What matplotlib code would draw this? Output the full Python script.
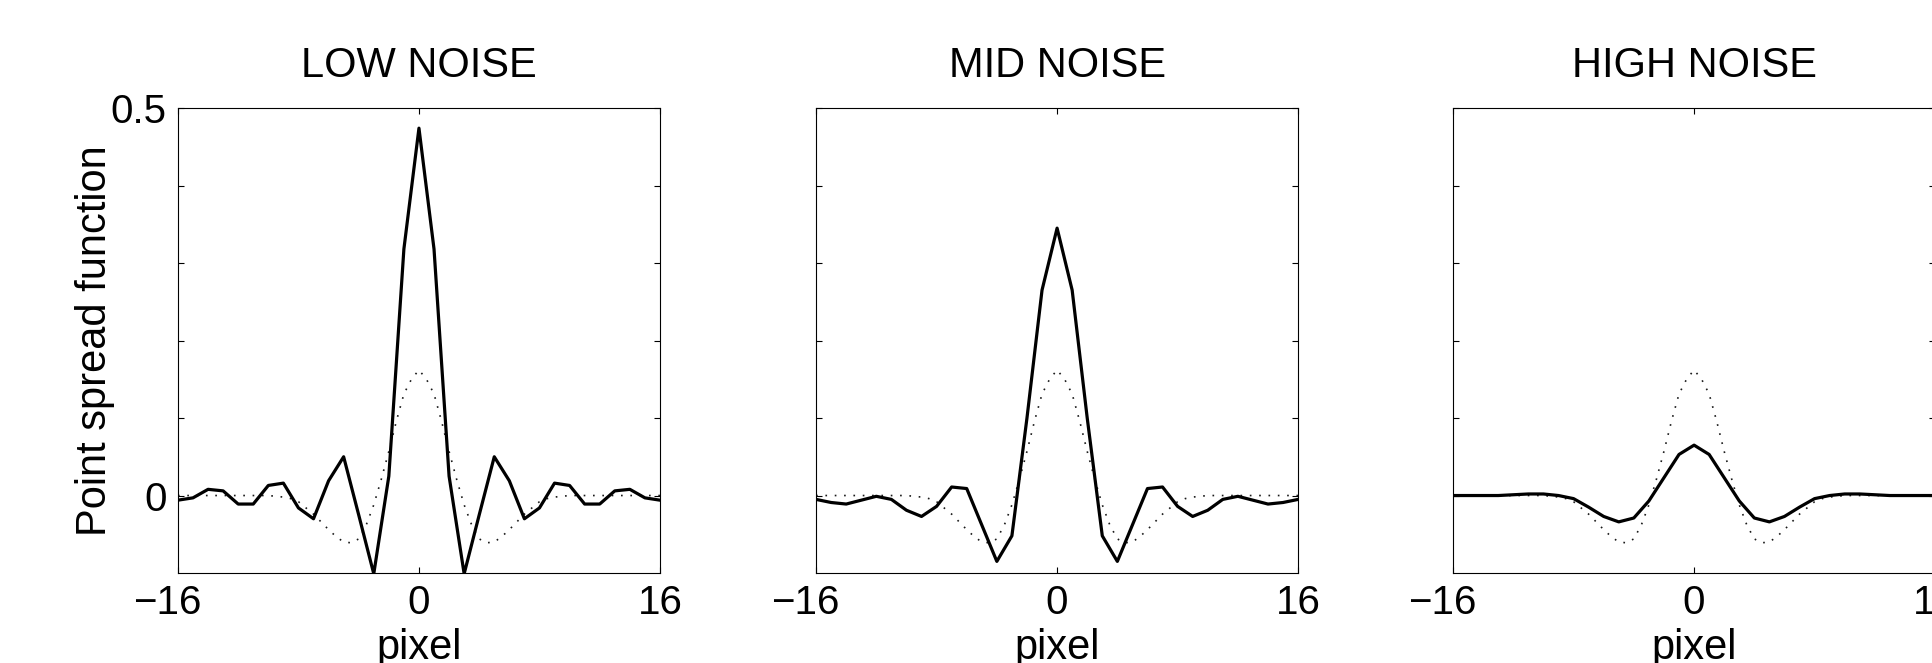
import matplotlib
matplotlib.use("Agg")
import matplotlib.pyplot as plt
import matplotlib.transforms as mtransforms
import numpy as np

plt.rcParams['font.family'] = ['Liberation Sans', 'DejaVu Sans']

# pixel positions
pix = np.arange(-16, 17)
pix_fine = np.arange(-16, 16.5, 0.5)

titles = ['LOW NOISE', 'MID NOISE', 'HIGH NOISE']

# estimated PSF (solid), one value per pixel
psf_low = [-0.006, -0.003, 0.008, 0.006, -0.011, -0.011, 0.013, 0.016, -0.016, -0.030,
           0.019, 0.050, -0.025, -0.101, 0.025, 0.318, 0.474, 0.318, 0.025, -0.101,
           -0.025, 0.050, 0.019, -0.030, -0.016, 0.016, 0.013, -0.011, -0.011, 0.006,
           0.008, -0.003, -0.006]
psf_mid = [-0.005, -0.009, -0.011, -0.006, -0.001, -0.005, -0.019, -0.027, -0.014, 0.011,
           0.009, -0.038, -0.085, -0.052, 0.100, 0.265, 0.345, 0.265, 0.100, -0.052,
           -0.085, -0.038, 0.009, 0.011, -0.014, -0.027, -0.019, -0.005, -0.001, -0.006,
           -0.011, -0.009, -0.005]
psf_high = [0.000, 0.000, 0.000, 0.000, 0.001, 0.002, 0.002, 0.000, -0.004, -0.015,
            -0.027, -0.034, -0.029, -0.007, 0.023, 0.053, 0.065, 0.053, 0.023, -0.007,
            -0.029, -0.034, -0.027, -0.015, -0.004, 0.000, 0.002, 0.002, 0.001, 0.000,
            0.000, 0.000, 0.000]

# reference PSF (dotted), read every half pixel
psf_true = [0.000, 0.000, 0.000, 0.000, 0.000, 0.000, 0.000, 0.000, 0.000, 0.000,
            0.000, 0.000, 0.000, -0.001, -0.002, -0.004, -0.008, -0.016, -0.024, -0.034,
            -0.044, -0.053, -0.060, -0.061, -0.056, -0.038, -0.012, 0.021, 0.057, 0.096,
            0.131, 0.150, 0.162, 0.150, 0.131, 0.096, 0.057, 0.021, -0.012, -0.038,
            -0.056, -0.061, -0.060, -0.053, -0.044, -0.034, -0.024, -0.016, -0.008, -0.004,
            -0.002, -0.001, 0.000, 0.000, 0.000, 0.000, 0.000, 0.000, 0.000, 0.000,
            0.000, 0.000, 0.000, 0.000, 0.000]

series = [psf_low, psf_mid, psf_high]

fig = plt.figure(figsize=(19.32, 6.63), dpi=100)
lefts = [0.0921, 0.4224, 0.7521]
# the minus sign hangs to the left of the centred digits
shift = mtransforms.ScaledTranslation(-8 / 72, 0, fig.dpi_scale_trans)

for i in range(3):
    ax = fig.add_axes([lefts[i], 0.1357, 0.2495, 0.7014])
    ax.plot(pix_fine, psf_true, color='#1a1a1a', lw=1.2, linestyle=(0, (1, 4.6)))
    ax.plot(pix, series[i], color='black', lw=2.3)
    ax.set_xlim(-16, 16)
    ax.set_ylim(-0.1, 0.5)
    ax.set_xticks([-16, 0, 16])
    ax.set_yticks([0, 0.1, 0.2, 0.3, 0.4, 0.5])
    ax.tick_params(direction='in', length=4, width=0.8, top=True, right=True,
                   labelsize=29, pad=8)
    if i == 0:
        ax.set_yticklabels(['0', '', '', '', '', '0.5'])
        ax.set_ylabel('Point spread function', fontsize=30, labelpad=-3)
    else:
        ax.set_yticklabels([])
    ax.set_xlabel('pixel', fontsize=30, labelpad=4)
    ax.set_title(titles[i], fontsize=30, pad=22)
    for s in ax.spines.values():
        s.set_linewidth(0.8)
    lab = ax.get_xticklabels()[0]
    lab.set_transform(lab.get_transform() + shift)

plt.savefig('out.png', dpi=100)
